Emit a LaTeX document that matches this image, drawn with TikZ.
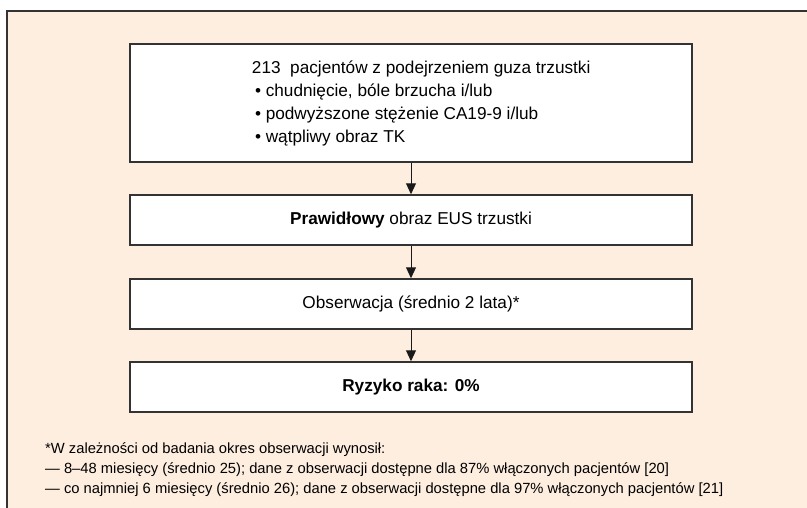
\documentclass[tikz,border=0pt]{standalone}
\usepackage{fontspec}
\setmainfont{Liberation Sans}
\usetikzlibrary{arrows.meta}
\definecolor{peach}{HTML}{FEEEE0}
\definecolor{edge}{HTML}{333333}
\tikzset{
  box/.style={draw=edge, line width=1.5pt, fill=white, minimum width=562pt, inner sep=0pt,
    font=\fontsize{17.2}{23}\selectfont},
  arr/.style={draw=black!90, line width=1pt, -{Triangle[length=11pt,width=10pt]}},
}
\begin{document}
\begin{tikzpicture}[x=1pt,y=-1pt]
\useasboundingbox (0,0) rectangle (807,507);
\clip (0,0) rectangle (807,507);
\fill[white] (0,0) rectangle (807,507);
\draw[draw=edge, line width=2pt, fill=peach] (7,11) rectangle (830,530);
\node[box, minimum height=118pt] (b1) at (411,103)
  {\makebox[562pt][l]{\hspace*{122pt}\begin{tabular}{@{}l@{}}
   213\ \ pacjentów z podejrzeniem guza trzustki\\
   \hspace*{3pt}• chudnięcie, bóle brzucha i/lub\\
   \hspace*{3pt}• podwyższone stężenie CA19-9 i/lub\\
   \hspace*{3pt}• wątpliwy obraz TK\end{tabular}}};
\node[box, minimum height=50pt] (b2) at (411,220) {\textbf{Prawidłowy} obraz EUS trzustki};
\node[box, minimum height=50pt] (b3) at (411,304) {Obserwacja (średnio 2 lata)*};
\node[box, minimum height=50pt] (b4) at (411,387) {\textbf{Ryzyko raka: 0\%}};
\draw[arr] (b1) -- (b2);
\draw[arr] (b2) -- (b3);
\draw[arr] (b3) -- (b4);
\node[anchor=north west, inner sep=0pt, align=left, font=\fontsize{14.75}{20}\selectfont] (fn) at (45,442)
  {*W zależności od badania okres obserwacji wynosił:\\
   — 8–48 miesięcy (średnio 25); dane z obserwacji dostępne dla 87\% włączonych pacjentów [20]\\
   — co najmniej 6 miesięcy (średnio 26); dane z obserwacji dostępne dla 97\% włączonych pacjentów [21]};
\end{tikzpicture}
\end{document}
